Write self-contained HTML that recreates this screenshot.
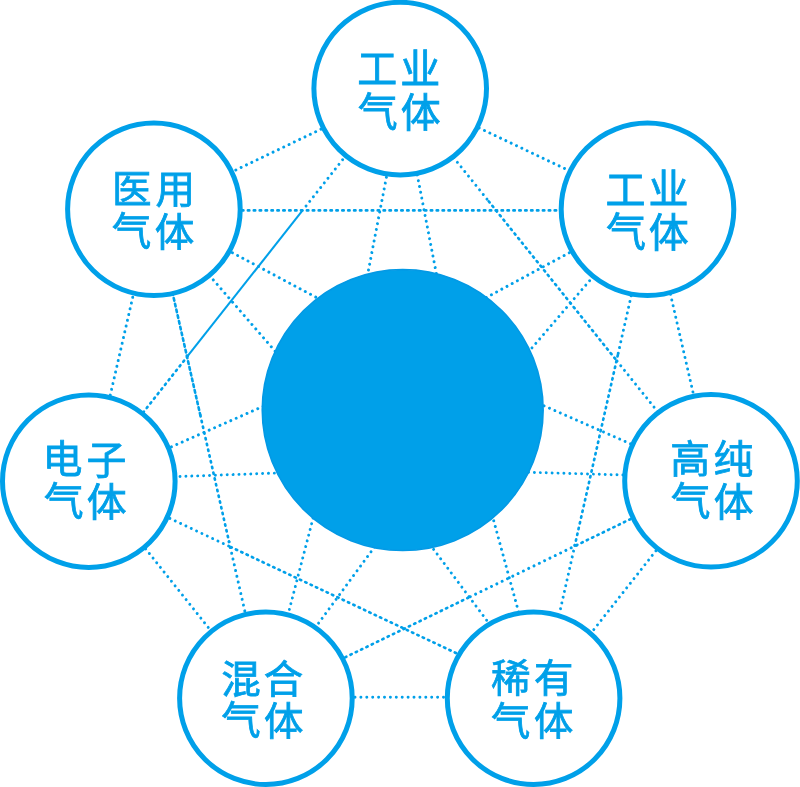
<!DOCTYPE html>
<html lang="zh-CN">
<head>
<meta charset="utf-8">
<title>气体产品</title>
<style>
html,body{margin:0;padding:0;background:#fff;}
body{width:800px;height:787px;overflow:hidden;position:relative;font-family:"Liberation Sans","Noto Sans CJK SC",sans-serif;}
svg{position:absolute;left:0;top:0;display:block;will-change:transform;}
.ln line{stroke:#00a0e9;fill:none;}
.d{stroke-width:2.95;stroke-dasharray:0.01 5.89;stroke-linecap:round;}
.D{stroke-width:2.65;stroke-dasharray:1.4 4.50;stroke-linecap:round;}
.D2{stroke-width:2.6;stroke-dasharray:2.7 3.20;stroke-linecap:round;}
.s{stroke-width:2.05;}
.nd{fill:#fff;stroke:#00a0e9;stroke-width:5.0;}
.tx{fill:#00a0e9;stroke:#00a0e9;stroke-width:0.8px;font-family:"Liberation Sans","Noto Sans CJK SC",sans-serif;font-size:40px;font-weight:400;}
</style>
</head>
<body>
<svg width="800" height="787" viewBox="0 0 800 787">
<g class="ln">
<line class="d" x1="331.61" y1="124.10" x2="230.19" y2="172.69"/>
<line class="d" x1="473.84" y1="125.44" x2="570.22" y2="171.17"/>
<line class="d" x1="349.91" y1="150.44" x2="302.96" y2="209.95"/>
<line class="s" x1="302.96" y1="209.95" x2="187.75" y2="355.97"/>
<line class="D" x1="187.75" y1="355.97" x2="140.78" y2="415.51"/>
<line class="d" x1="450.01" y1="153.10" x2="488.71" y2="201.28"/>
<line class="D" x1="488.71" y1="201.28" x2="617.08" y2="361.12"/>
<line class="d" x1="617.08" y1="361.12" x2="660.26" y2="414.88"/>
<line class="d" x1="388.64" y1="165.71" x2="366.12" y2="282.28"/>
<line class="d" x1="416.16" y1="169.11" x2="437.58" y2="279.98"/>
<line class="d" x1="286.43" y1="620.82" x2="314.72" y2="511.89"/>
<line class="d" x1="520.10" y1="617.59" x2="490.45" y2="508.72"/>
<line class="D" x1="230.20" y1="210.40" x2="564.50" y2="210.40"/>
<line class="d" x1="221.99" y1="247.15" x2="326.49" y2="302.84"/>
<line class="d" x1="205.57" y1="270.99" x2="279.26" y2="355.97"/>
<line class="D2" x1="171.09" y1="286.49" x2="200.28" y2="415.02"/>
<line class="D" x1="200.28" y1="415.02" x2="229.07" y2="541.79"/>
<line class="d" x1="229.07" y1="541.79" x2="245.33" y2="613.35"/>
<line class="d" x1="135.34" y1="285.80" x2="110.06" y2="396.05"/>
<line class="d" x1="579.68" y1="247.09" x2="480.94" y2="300.40"/>
<line class="d" x1="597.28" y1="271.74" x2="523.29" y2="358.01"/>
<line class="d" x1="632.50" y1="289.99" x2="617.79" y2="355.15"/>
<line class="D" x1="617.79" y1="355.15" x2="574.83" y2="545.36"/>
<line class="d" x1="574.83" y1="545.36" x2="559.48" y2="613.35"/>
<line class="d" x1="669.16" y1="288.50" x2="694.14" y2="397.35"/>
<line class="d" x1="160.60" y1="451.56" x2="269.68" y2="403.46"/>
<line class="d" x1="168.21" y1="476.92" x2="286.99" y2="472.67"/>
<line class="d" x1="159.22" y1="513.38" x2="230.52" y2="546.93"/>
<line class="D" x1="230.52" y1="546.93" x2="462.83" y2="656.25"/>
<line class="d" x1="138.35" y1="539.67" x2="212.84" y2="633.19"/>
<line class="d" x1="641.30" y1="448.55" x2="532.81" y2="400.87"/>
<line class="d" x1="634.70" y1="475.34" x2="521.31" y2="472.05"/>
<line class="D" x1="641.12" y1="513.96" x2="576.50" y2="545.26"/>
<line class="d" x1="576.50" y1="545.26" x2="468.51" y2="597.58"/>
<line class="D" x1="468.51" y1="597.58" x2="341.50" y2="659.12"/>
<line class="d" x1="663.20" y1="541.53" x2="589.79" y2="634.71"/>
<line class="d" x1="311.61" y1="632.61" x2="378.30" y2="541.83"/>
<line class="d" x1="493.67" y1="629.65" x2="426.12" y2="539.29"/>
<line class="d" x1="343.20" y1="697.20" x2="451.50" y2="697.20"/>
</g>
<circle cx="402.7" cy="410.1" r="140.45" fill="#00a0e9" stroke="#0399e5" stroke-width="1.6"/>
<circle class="nd" cx="400.2" cy="88.6" r="86.30"/>
<text class="tx" transform="scale(0.9987,1.0064)" x="357.75 400.86 358.10 401.21" y="82.96 82.82 124.90 125.79">工业气体</text>
<circle class="nd" cx="153.9" cy="209.3" r="86.30"/>
<text class="tx" transform="scale(0.9898,0.9799)" x="113.06 157.08 112.95 156.44" y="207.63 207.35 250.33 251.40">医用气体</text>
<circle class="nd" cx="647.5" cy="209.3" r="86.30"/>
<text class="tx" transform="scale(1.0000,1.0086)" x="605.45 648.40 605.90 648.85" y="201.80 201.66 243.64 244.68">工业气体</text>
<circle class="nd" cx="88.8" cy="481.2" r="86.30"/>
<text class="tx" transform="scale(0.9987,0.9803)" x="42.59 86.74 43.84 86.79" y="482.77 483.16 525.77 526.69">电子气体</text>
<circle class="nd" cx="711.0" cy="480.8" r="86.30"/>
<text class="tx" transform="scale(0.9960,0.9701)" x="672.85 716.37 673.45 716.58" y="487.83 487.72 531.12 532.21">高纯气体</text>
<circle class="nd" cx="265.9" cy="698.2" r="86.30"/>
<text class="tx" transform="scale(0.9870,0.9687)" x="224.23 267.24 224.07 267.60" y="715.22 715.10 758.15 759.03">混合气体</text>
<circle class="nd" cx="533.6" cy="698.2" r="86.30"/>
<text class="tx" transform="scale(0.9849,0.9728)" x="498.41 542.22 498.46 542.13" y="711.31 711.11 755.05 755.93">稀有气体</text>
</svg>
</body>
</html>
